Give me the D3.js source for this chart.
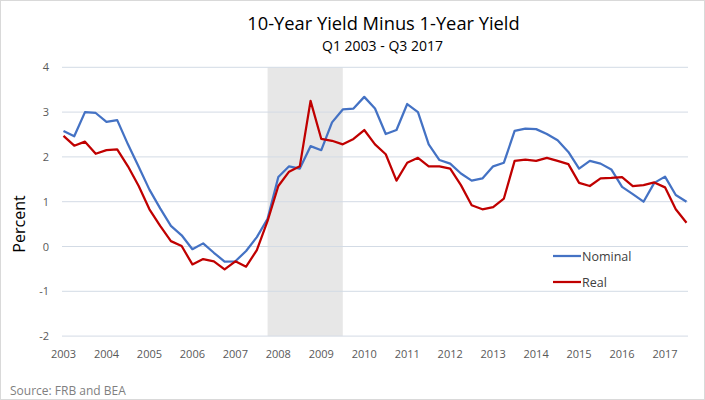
<!DOCTYPE html>
<html><head><meta charset="utf-8">
<script src="https://cdn.jsdelivr.net/npm/d3@7"></script>
<style>body{margin:0;background:#fff}svg{display:block}text{font-family:"Open Sans",sans-serif}</style>
</head><body><svg id="c" width="705" height="400"></svg>
<script>
const quarters = d3.range(59).map(i => (2003 + Math.floor(i/4)) + "Q" + (i%4+1));
const nominal = [2.58,2.46,3.00,2.98,2.78,2.82,2.28,1.78,1.27,0.85,0.46,0.25,-0.06,0.07,-0.14,-0.34,-0.33,-0.10,0.21,0.62,1.55,1.79,1.74,2.24,2.15,2.77,3.06,3.08,3.34,3.08,2.51,2.60,3.18,3.00,2.28,1.93,1.85,1.63,1.47,1.52,1.79,1.87,2.58,2.63,2.62,2.51,2.37,2.11,1.74,1.91,1.85,1.72,1.33,1.17,1.00,1.42,1.56,1.15,1.00];
const real = [2.47,2.25,2.34,2.07,2.15,2.17,1.79,1.35,0.83,0.46,0.12,0.01,-0.40,-0.28,-0.33,-0.51,-0.33,-0.45,-0.08,0.57,1.35,1.67,1.79,3.25,2.40,2.36,2.28,2.40,2.60,2.28,2.06,1.47,1.87,1.98,1.79,1.79,1.74,1.37,0.92,0.83,0.88,1.07,1.91,1.94,1.91,1.98,1.91,1.84,1.42,1.35,1.52,1.53,1.55,1.35,1.37,1.43,1.32,0.83,0.53];
const yearLabels = d3.range(2003, 2018).map(String);
const yTicks = [-2,-1,0,1,2,3,4];
const recession = ["2007Q4","2009Q3"];
const seriesNames = ["Nominal","Real"];
const colors = ["#4472C4","#C00000"];

const svg = d3.select("#c");
svg.append("rect").attr("x",0.5).attr("y",0.5).attr("width",704).attr("height",399).attr("fill","#fff").attr("stroke","#d9d9d9");

const x = d3.scalePoint().domain(quarters).range([63.5, 686.5]);
const y = d3.scaleLinear().domain([-2,4]).range([336.1, 67.3]);

// recession shading
svg.append("rect").attr("x", x(recession[0])).attr("y", y(4))
  .attr("width", x(recession[1]) - x(recession[0])).attr("height", y(-2)-y(4)).attr("fill","#e7e7e7");

// gridlines
svg.append("g").selectAll("line").data(yTicks).join("line")
  .attr("x1", 62).attr("x2", 688).attr("y1", d=>y(d)).attr("y2", d=>y(d))
  .attr("stroke","#d3dbe5").attr("stroke-width",1);

// y labels
svg.append("g").selectAll("text").data(yTicks).join("text")
  .attr("x", 49).attr("y", d=>y(d)+4).attr("text-anchor","end")
  .attr("font-size",11).attr("fill","#595959").text(d=>d);

// x labels
svg.append("g").selectAll("text").data(yearLabels).join("text")
  .attr("x", d=>x(d+"Q1")).attr("y", 358).attr("text-anchor","middle")
  .attr("font-size",11).attr("fill","#595959").text(d=>d);

// lines
const line = d3.line().x((d,i)=>x(quarters[i])).y(d=>y(d));
[nominal, real].forEach((s,k)=>{
  svg.append("path").datum(s).attr("d", line).attr("fill","none")
    .attr("stroke", colors[k]).attr("stroke-width",2.25).attr("stroke-linejoin","round");
});

// legend
seriesNames.forEach((n,k)=>{
  const ly = 256 + k*26;
  svg.append("line").attr("x1",553).attr("x2",581).attr("y1",ly).attr("y2",ly)
    .attr("stroke",colors[k]).attr("stroke-width",2.25);
  svg.append("text").attr("x",582).attr("y",ly+4.5).attr("font-size",12.5).attr("fill","#404040").text(n);
});

// titles
svg.append("text").attr("x",383.5).attr("y",30).attr("text-anchor","middle").attr("font-size",18.3).attr("fill","#000").text("10-Year Yield Minus 1-Year Yield");
svg.append("text").attr("x",382.5).attr("y",51).attr("text-anchor","middle").attr("font-size",14).attr("fill","#000").text("Q1 2003 - Q3 2017");
svg.append("text").attr("transform","translate(25,224) rotate(-90)").attr("text-anchor","middle").attr("font-size",16).attr("fill","#000").text("Percent");
svg.append("text").attr("x",10).attr("y",395).attr("font-size",12).attr("fill","#7f7f7f").text("Source: FRB and BEA");
</script></body></html>
